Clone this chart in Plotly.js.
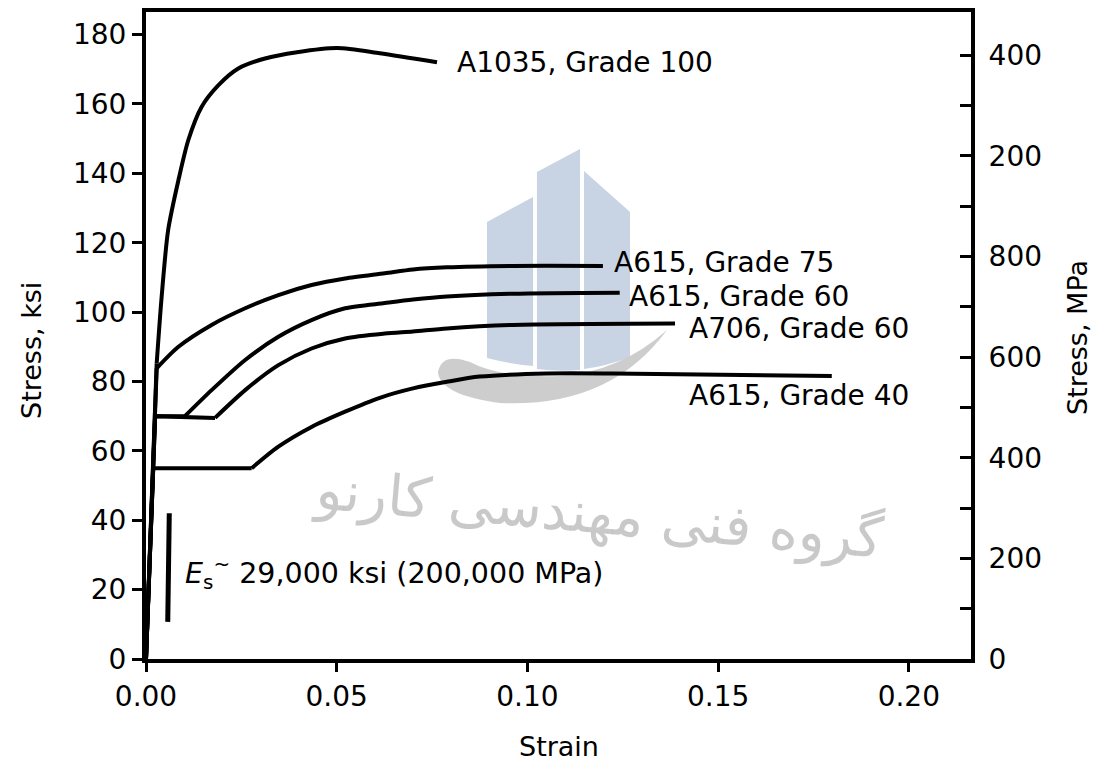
<!DOCTYPE html>
<html>
<head>
<meta charset="utf-8">
<script src="https://cdn.plot.ly/plotly-3.0.1.min.js"></script>
<style>
html,body{margin:0;padding:0;background:#ffffff;}
#chart{width:1110px;height:761px;}
</style>
</head>
<body>
<div id="chart"></div>
<script>
// ---------------- DATA ----------------
const a1035Strain = [0, 0.0028, 0.0041, 0.0058, 0.0085, 0.0111, 0.0146, 0.0190, 0.0242, 0.0312, 0.0396, 0.0501, 0.0613, 0.0763];
const a1035Stress = [0, 85.2, 104.4, 123.6, 138.0, 149.6, 159.2, 165.4, 170.2, 173.1, 174.9, 176.1, 174.6, 172.0];

const a615g75Strain = [0, 0.0028, 0.0085, 0.0172, 0.0260, 0.0347, 0.0434, 0.0522, 0.0626, 0.0700, 0.0789, 0.0962, 0.1198];
const a615g75Stress = [0, 83.8, 90.0, 96.3, 101.1, 104.9, 107.8, 109.7, 111.2, 112.3, 112.9, 113.3, 113.3];

const a615g60Strain = [0, 0.0024, 0.0102, 0.0172, 0.0260, 0.0347, 0.0434, 0.0522, 0.0626, 0.0700, 0.0789, 0.0962, 0.1242];
const a615g60Stress = [0, 70, 70, 77.5, 86.2, 92.9, 97.7, 101.1, 102.6, 103.6, 104.5, 105.3, 105.6];

const a706g60Strain = [0, 0.0024, 0.0181, 0.0260, 0.0347, 0.0434, 0.0522, 0.0626, 0.0700, 0.0789, 0.0962, 0.1387];
const a706g60Stress = [0, 70, 69.5, 77.5, 84.7, 89.5, 92.4, 93.8, 94.4, 95.3, 96.3, 96.7];

const a615g40Strain = [0, 0.0019, 0.0277, 0.0347, 0.0434, 0.0522, 0.0613, 0.0700, 0.0789, 0.0875, 0.1051, 0.1224, 0.1798];
const a615g40Stress = [0, 55, 55, 61.2, 66.9, 71.3, 75.3, 78.0, 79.9, 81.4, 82.3, 82.3, 81.6];

// modulus indicator stroke
const esStrain = [0.0057, 0.0061];
const esStress = [10.7, 42.0];

// number of leading points drawn as straight segments (elastic / yield plateau)
const series = [
  {name: 'A1035, Grade 100', x: a1035Strain, y: a1035Stress, straight: 2},
  {name: 'A615, Grade 75',   x: a615g75Strain, y: a615g75Stress, straight: 2},
  {name: 'A615, Grade 60',   x: a615g60Strain, y: a615g60Stress, straight: 3},
  {name: 'A706, Grade 60',   x: a706g60Strain, y: a706g60Stress, straight: 3},
  {name: 'A615, Grade 40',   x: a615g40Strain, y: a615g40Stress, straight: 3}
];

const strainTicks = [0, 0.05, 0.10, 0.15, 0.20];
const strainTickText = ['0.00', '0.05', '0.10', '0.15', '0.20'];
const ksiTicks = [0, 20, 40, 60, 80, 100, 120, 140, 160, 180];
const mpaTicks = [0, 200, 400, 600, 800, 1000, 1200];
const mpaTickText = ['0', '200', '400', '600', '800', '200', '400'];

const KSI_TO_MPA = 6.894757;
const ksiMax = 186.5;
const strainMax = 0.2163;

// ---------------- TRACES ----------------
const FONT = 'DejaVu Sans, Verdana, sans-serif';
const traces = [];
series.forEach(s => {
  const k = s.straight;
  traces.push({
    type: 'scatter', mode: 'lines', x: s.x.slice(0, k), y: s.y.slice(0, k),
    line: {color: '#000', width: 4, shape: 'linear'}, hoverinfo: 'skip', showlegend: false
  });
  traces.push({
    type: 'scatter', mode: 'lines', x: s.x.slice(k - 1), y: s.y.slice(k - 1),
    line: {color: '#000', width: 4, shape: 'spline', smoothing: 0.75}, name: s.name, showlegend: false
  });
});
traces.push({
  type: 'scatter', mode: 'lines', x: esStrain, y: esStress,
  line: {color: '#000', width: 5}, hoverinfo: 'skip', showlegend: false
});
// same Grade 40 curve expressed in MPa, invisible, so the right-hand MPa axis is drawn
traces.push({
  type: 'scatter', mode: 'lines', x: a615g40Strain, y: a615g40Stress.map(v => v * KSI_TO_MPA),
  yaxis: 'y2', opacity: 0, line: {width: 0}, hoverinfo: 'skip', showlegend: false
});

// ---------------- WATERMARK (decorative, pixel-based) ----------------
const L = 146, R = 971, T = 12, B = 659;
const fx = x => ((x - L) / (R - L)).toFixed(4);
const fy = y => ((B - y) / (B - T)).toFixed(4);
const P = (x, y) => fx(x) + ',' + fy(y);
const logoBlue = 'rgba(190,204,222,0.85)';
const swooshGray = 'rgba(200,200,200,0.9)';
const shapes = [
  {type: 'path', xref: 'paper', yref: 'paper', layer: 'below', line: {width: 0}, fillcolor: logoBlue,
   path: `M${P(487,222)} L${P(533,197)} L${P(533,366)} Q${P(510,364)} ${P(487,358)} Z`},
  {type: 'path', xref: 'paper', yref: 'paper', layer: 'below', line: {width: 0}, fillcolor: logoBlue,
   path: `M${P(537,172)} L${P(580,149)} L${P(580,370)} Q${P(558,372)} ${P(537,369)} Z`},
  {type: 'path', xref: 'paper', yref: 'paper', layer: 'below', line: {width: 0}, fillcolor: logoBlue,
   path: `M${P(584,171)} L${P(630,212)} L${P(630,357)} Q${P(607,366)} ${P(584,369)} Z`},
  {type: 'path', xref: 'paper', yref: 'paper', layer: 'below', line: {width: 0}, fillcolor: swooshGray,
   path: `M${P(667,330)} Q${P(620,372)} ${P(560,376)} Q${P(500,378)} ${P(470,362)} Q${P(442,352)} ${P(438,372)} Q${P(440,395)} ${P(500,403)} Q${P(610,408)} ${P(667,330)} Z`},
  {type: 'rect', xref: 'paper', yref: 'paper', layer: 'below', line: {width: 0}, fillcolor: 'rgba(0,0,0,0)',
   x0: fx(320), x1: fx(880), y0: fy(590), y1: fy(430),
   label: {text: 'گروه فنی مهندسی کارنو', textposition: 'middle center', textangle: 5,
           font: {family: 'DejaVu Sans, sans-serif', size: 56, color: 'rgba(195,195,195,0.9)'}}}
];

// ---------------- ANNOTATIONS ----------------
const labelFont = {family: FONT, size: 28, color: '#000'};
const annotations = [
  {x: 0.0810, y: 172.0, text: 'A1035, Grade 100'},
  {x: 0.1221, y: 114.4, text: 'A615, Grade 75'},
  {x: 0.1261, y: 104.6, text: 'A615, Grade 60'},
  {x: 0.1418, y: 95.4, text: 'A706, Grade 60'},
  {x: 0.1418, y: 76.1, text: 'A615, Grade 40'},
  {x: 0.0097, y: 24.8, text: '<i>E</i><sub>s</sub><sup>~</sup> 29,000 ksi (200,000 MPa)', size: 28.5}
].map(a => ({
  x: a.x, y: a.y, xref: 'x', yref: 'y', text: a.text, showarrow: false,
  xanchor: 'left', yanchor: 'middle',
  font: Object.assign({}, labelFont, a.size ? {size: a.size} : {})
}));
// axis titles placed as annotations for exact placement
const titleFont = {family: FONT, size: 27, color: '#000'};
annotations.push(
  {xref: 'paper', yref: 'paper', x: fx(559), y: fy(746), text: 'Strain', showarrow: false,
   xanchor: 'center', yanchor: 'middle', font: titleFont},
  {xref: 'paper', yref: 'paper', x: fx(32), y: fy(350), text: 'Stress, ksi', showarrow: false,
   textangle: -90, xanchor: 'center', yanchor: 'middle', font: titleFont},
  {xref: 'paper', yref: 'paper', x: fx(1077), y: fy(338), text: 'Stress, MPa', showarrow: false,
   textangle: -90, xanchor: 'center', yanchor: 'middle', font: titleFont}
);

// ---------------- LAYOUT ----------------
const tickFont = {family: FONT, size: 28, color: '#000'};
const layout = {
  width: 1110, height: 761,
  margin: {l: L, r: 1110 - R, t: T, b: 761 - B, pad: 0},
  paper_bgcolor: '#ffffff', plot_bgcolor: '#ffffff',
  font: {family: FONT, color: '#000'},
  showlegend: false,
  xaxis: {
    range: [0, strainMax], tickvals: strainTicks, ticktext: strainTickText,
    ticks: 'outside', ticklen: 9, tickwidth: 3, tickcolor: '#000',
    showline: true, linewidth: 4, linecolor: '#000', mirror: true,
    showgrid: false, zeroline: false, tickfont: tickFont
  },
  yaxis: {
    range: [0, ksiMax], tickvals: ksiTicks,
    ticks: 'outside', ticklen: 10, tickwidth: 3, tickcolor: '#000',
    showline: true, linewidth: 4, linecolor: '#000',
    showgrid: false, zeroline: false, tickfont: tickFont
  },
  yaxis2: {
    overlaying: 'y', side: 'right', anchor: 'x',
    range: [0, ksiMax * KSI_TO_MPA], tickvals: mpaTicks, ticktext: mpaTickText,
    ticks: 'inside', ticklen: 11, tickwidth: 3, tickcolor: '#000',
    minor: {dtick: 100, tick0: 0, ticks: 'inside', ticklen: 11, tickwidth: 3, tickcolor: '#000', showgrid: false},
    showline: true, linewidth: 4, linecolor: '#000',
    showgrid: false, zeroline: false, tickfont: tickFont, ticklabelstandoff: 8
  },
  shapes: shapes,
  annotations: annotations
};

Plotly.newPlot('chart', traces, layout, {displayModeBar: false, staticPlot: true});
</script>
</body>
</html>
